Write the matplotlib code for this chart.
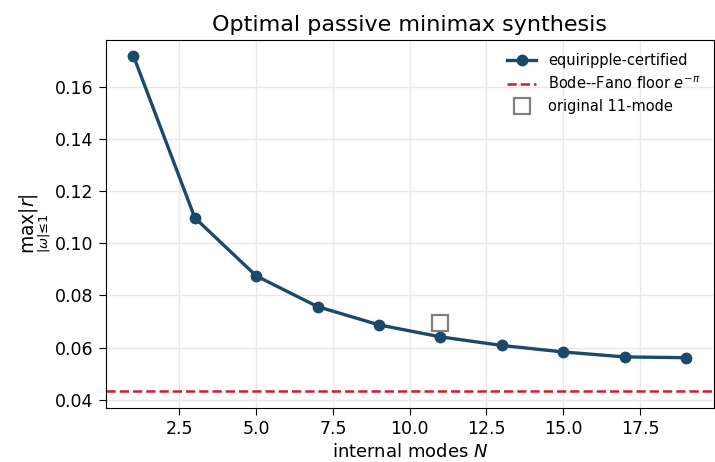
import numpy as np
import matplotlib.pyplot as plt

# internal mode counts and certified minimax reflection
modes = [1, 3, 5, 7, 9, 11, 13, 15, 17, 19]
max_r = [0.1720, 0.1098, 0.0875, 0.0757, 0.0687, 0.0641, 0.0608, 0.0583, 0.0564, 0.0561]

# reference design
orig_mode = [11]
orig_r = [0.0696]

floor = np.exp(-np.pi)

fig = plt.figure(figsize=(7.15, 4.62), dpi=100)
ax = fig.add_axes([0.148, 0.117, 0.850, 0.797])

ax.plot(modes, max_r, '-o', color='#1a4a6b', lw=2.4, ms=7.5, label='equiripple-certified')
ax.axhline(floor, color='#cc1f2a', ls='--', lw=1.8, label=r'Bode--Fano floor $e^{-\pi}$')
ax.plot(orig_mode, orig_r, 's', mfc='none', mec='gray', mew=1.6, ms=11.5, label='original 11-mode')

ax.set_xlim(0.1, 19.9)
ax.set_ylim(0.0368, 0.1782)
ax.grid(True, color='#e8e8e8', lw=1)
ax.set_axisbelow(True)
ax.tick_params(labelsize=12.5, pad=4, length=5)
ax.set_xlabel(r'internal modes $N$', fontsize=13, labelpad=3)
ax.set_ylabel(r'$\max_{|\omega|\leq 1}|r|$', fontsize=13.5, labelpad=2)
ax.set_title('Optimal passive minimax synthesis', fontsize=16)
ax.legend(frameon=False, fontsize=10.5, loc='upper right')

fig.savefig('out.png', dpi=100)
